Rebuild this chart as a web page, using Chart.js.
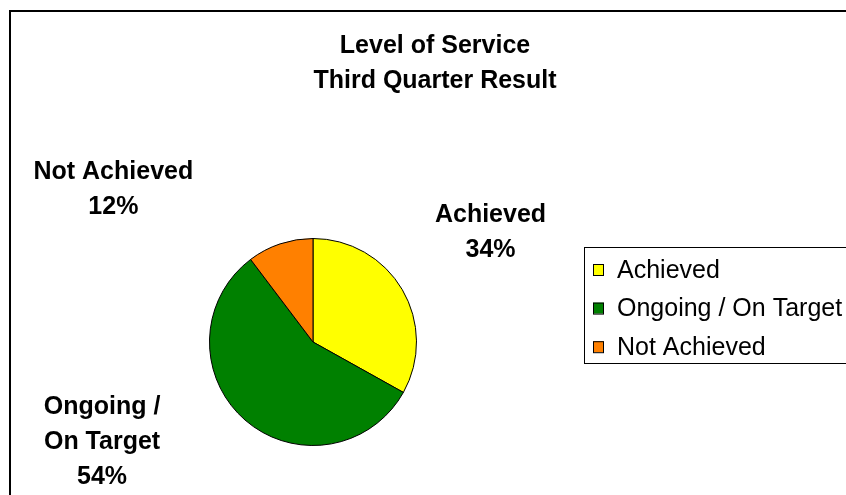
<!DOCTYPE html>
<html>
<head>
<meta charset="utf-8">
<script src="https://cdn.jsdelivr.net/npm/chart.js@4.4.1/dist/chart.umd.min.js"></script>
<style>
  html, body { margin: 0; padding: 0; background: #ffffff; }
  #pieChart { display: block; }
</style>
</head>
<body>
<canvas id="pieChart" width="846" height="495"></canvas>
<script>
// data
const titleLines = ['Level of Service', 'Third Quarter Result'];
const categories = ['Achieved', 'Ongoing / On Target', 'Not Achieved'];
const sliceValues = [33.1, 56.6, 10.3];          // slice sizes as drawn
const percentLabels = ['34%', '54%', '12%'];      // label text as printed
const labelLines = [['Achieved'], ['Ongoing /', 'On Target'], ['Not Achieved']];
const sliceColors = ['#FFFF00', '#008000', '#FF8000'];

// label anchors, in units of the pie radius from its centre
const labelOffsets = [[1.715, -1.157], [-2.038, 0.697], [-1.929, -1.578]];

const FONT = '"Liberation Sans", Arial, sans-serif';

const decorations = {
    id: 'decorations',
    beforeDraw(chart) {
        const ctx = chart.ctx;
        ctx.save();
        ctx.fillStyle = '#ffffff';
        ctx.fillRect(0, 0, chart.width, chart.height);
        // outer chart frame (cut off right and bottom)
        ctx.strokeStyle = '#000000';
        ctx.lineWidth = 2;
        ctx.strokeRect(10, 11, 900, 600);
        ctx.restore();
    },
    afterDraw(chart) {
        const ctx = chart.ctx;
        const arc = chart.getDatasetMeta(0).data[0];
        const cx = arc.x, cy = arc.y, r = arc.outerRadius;
        ctx.save();
        ctx.fillStyle = '#000000';
        ctx.textAlign = 'center';
        ctx.textBaseline = 'alphabetic';

        // title
        ctx.font = 'bold 25px ' + FONT;
        titleLines.forEach((t, i) => ctx.fillText(t, 435, 53 + i * 35));

        // data labels
        categories.forEach((c, i) => {
            const lines = labelLines[i].concat([percentLabels[i]]);
            const x = cx + labelOffsets[i][0] * r;
            const y = cy + labelOffsets[i][1] * r;
            lines.forEach((t, j) => ctx.fillText(t, x, y + j * 35));
        });

        // legend box
        ctx.lineWidth = 1;
        ctx.strokeStyle = '#000000';
        ctx.strokeRect(584.5, 247.5, 400, 116);
        ctx.textAlign = 'left';
        ctx.font = '25px ' + FONT;
        categories.forEach((c, i) => {
            const rowY = 269.5 + i * 38.6;
            ctx.fillStyle = sliceColors[i];
            ctx.fillRect(593, rowY - 5.5, 11, 11);
            ctx.strokeRect(593.5, rowY - 5, 10, 11);
            ctx.fillStyle = '#000000';
            ctx.fillText(c, 617, rowY + 8);
        });
        ctx.restore();
    }
};

new Chart(document.getElementById('pieChart').getContext('2d'), {
    type: 'pie',
    data: {
        labels: categories,
        datasets: [{
            data: sliceValues,
            backgroundColor: sliceColors,
            borderColor: '#000000',
            borderWidth: 1
        }]
    },
    options: {
        responsive: false,
        animation: false,
        layout: {
            padding: { left: 209, right: 429, top: 238, bottom: 49 }
        },
        plugins: {
            legend: { display: false },
            title: { display: false },
            tooltip: { enabled: false }
        }
    },
    plugins: [decorations]
});
</script>
</body>
</html>
